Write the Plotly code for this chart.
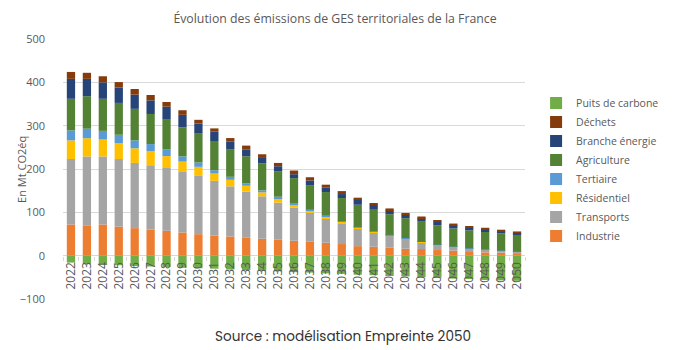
import plotly.graph_objects as go

years = [str(y) for y in range(2022, 2051)]

industrie = [72, 70, 72, 67, 63.5, 60, 57.3, 53.5, 49.6, 46.6, 44.3, 41.3, 39, 36.7, 34.4, 32, 29.8, 26.8,
             22, 20.6, 19, 16, 15.3, 13, 11.5, 8.5, 7.6, 6.9, 6]
transports = [151, 159, 157, 156, 150.5, 148.7, 145, 139.5, 134.4, 126, 115.7, 106.2, 98, 85.6, 76.4, 66.6, 56.7, 47.2,
              40, 33.4, 27, 23, 16, 12, 9, 8.3, 6.9, 4.6, 3]
residentiel = [43, 42, 39, 37, 33.7, 32.8, 27.5, 24, 21, 17, 15, 13.8, 9, 10, 7.8, 6.2, 4.5, 4,
               3, 2, 1.5, 1, 0.3, 0.2, 0.2, 0.2, 0.1, 0.1, 0.1]
tertiaire = [23, 22, 20, 19, 18.3, 16, 16, 12, 10, 7.5, 7, 5.4, 4.7, 3.7, 3, 2.2, 2.3, 1.6,
             1.5, 0.6, 0.5, 0.5, 0.2, 0.1, 0.1, 0.1, 0.1, 0.1, 0.1]
agriculture = [73, 75, 74, 73.5, 72.8, 69.5, 68, 67, 68, 67.5, 62.7, 62.7, 62.6, 59, 57.4, 55.8, 53.5, 53.4,
               51, 49.4, 47.6, 46, 46.6, 45, 42, 41.2, 39.9, 39.6, 39]
branche_energie = [46, 40, 38, 35.5, 32.8, 31.5, 30, 29, 22, 21.5, 18.3, 16, 12.2, 11.4, 9, 10.8, 10, 9.2,
                   12.3, 11.7, 9.2, 8.3, 8.5, 8.3, 7.7, 6.2, 5.9, 4.6, 3]
dechets = [16, 14, 14, 12.6, 13, 12.3, 10.8, 10.6, 8.5, 7.6, 8.4, 8.6, 8.5, 7.6, 8.5, 7.4, 7, 6.8,
           4, 3.8, 4.2, 3.8, 3.5, 3.1, 3.6, 3.8, 3.9, 4, 4.7]
puits_carbone = [-16, -19, -21, -22, -24, -25, -26, -28, -29, -30, -32, -33, -35, -36, -38, -39, -41, -42,
                 -44, -45, -47, -48, -50, -51, -53, -54, -56, -57, -58]

series = [
    ("Industrie", industrie, "#ED7D31"),
    ("Transports", transports, "#A5A5A5"),
    ("Résidentiel", residentiel, "#FFC000"),
    ("Tertiaire", tertiaire, "#5B9BD5"),
    ("Agriculture", agriculture, "#548235"),
    ("Branche énergie", branche_energie, "#264478"),
    ("Déchets", dechets, "#843C0C"),
    ("Puits de carbone", puits_carbone, "#70AD47"),
]

FONT = "Open Sans"
GREY = "#595959"

fig = go.Figure()
for name, vals, col in series:
    fig.add_trace(go.Bar(x=years, y=vals, name=name, marker_color=col, marker_line_width=0))

fig.update_layout(
    width=676, height=350,
    margin=dict(l=63, r=119, t=39, b=51),
    barmode="relative", bargap=0.48,
    plot_bgcolor="white", paper_bgcolor="white",
    font=dict(family=FONT, size=11, color=GREY),
    title=dict(text="Évolution des émissions de GES territoriales de la France",
               x=335 / 676, xanchor="center", xref="container", y=1 - 18.5 / 350, yref="container",
               yanchor="middle",
               font=dict(family=FONT, size=12.3, color=GREY)),
    legend=dict(traceorder="reversed", x=1.024, xanchor="left", y=0.81, yanchor="top",
                font=dict(family=FONT, size=10.5, color=GREY), itemwidth=30, tracegroupgap=0),
    showlegend=True,
)
fig.update_yaxes(range=[-100, 500], dtick=100, showgrid=True, gridcolor="#D9D9D9", gridwidth=1,
                 zeroline=True, zerolinecolor="#D9D9D9", zerolinewidth=1,
                 tickfont=dict(size=11, color=GREY), ticklabelstandoff=17)
fig.update_xaxes(anchor="free", position=1/6, tickangle=-90, tickfont=dict(size=12, color=GREY),
                 ticks="outside", tickson="boundaries", ticklen=4, tickcolor="#D9D9D9",
                 ticklabelstandoff=3, showline=False, showgrid=False)

# y-axis title
fig.add_annotation(text="En Mt CO2éq", xref="paper", yref="paper", textangle=-90,
                   x=(18 - 63) / 494, y=0.5, xanchor="center", yanchor="middle",
                   showarrow=False, font=dict(family=FONT, size=11, color=GREY))

fig.add_annotation(text="Source : modélisation Empreinte 2050", xref="paper", yref="paper",
                   x=(362 - 63) / 494, y=(299 - 336.5) / 260, xanchor="center", yanchor="middle",
                   showarrow=False, font=dict(family="Poppins, Lato, sans-serif", size=13.6, color="#333333"))

fig.write_html("out.html")
